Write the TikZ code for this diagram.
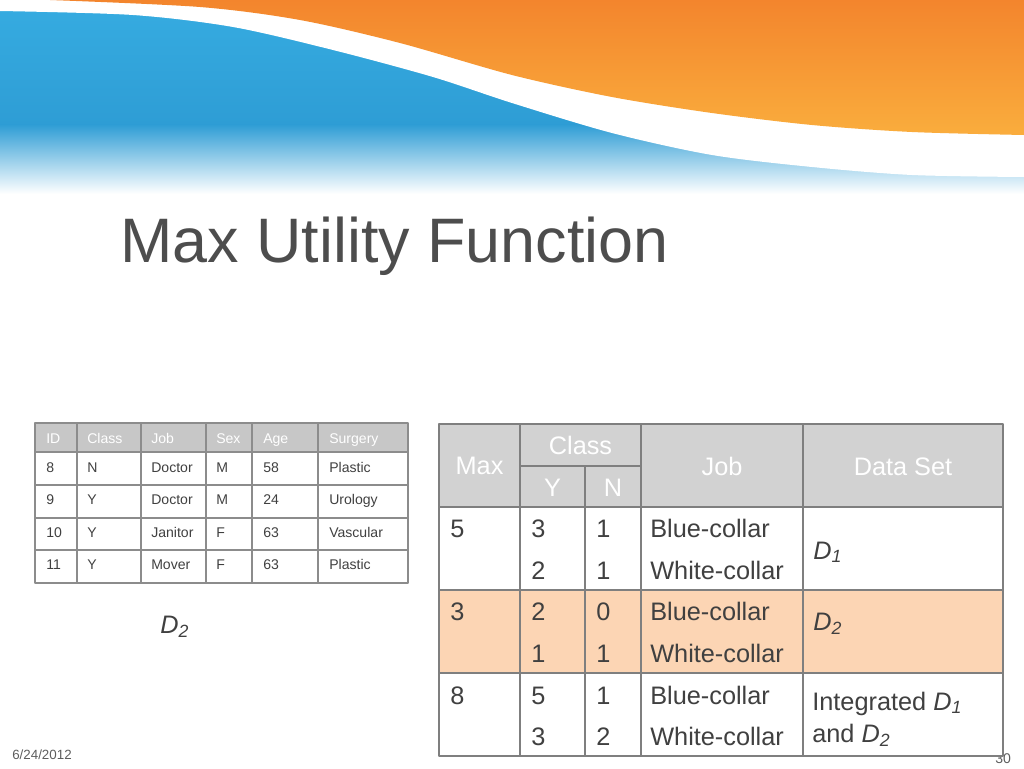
\documentclass[tikz,border=0pt]{standalone}
\usepackage{fontspec}
\setmainfont{Liberation Sans}
\definecolor{bannerblue}{HTML}{36ACE1}
\definecolor{bannerbluelow}{HTML}{2E9DD5}
\definecolor{bannerorange}{HTML}{F3852D}
\definecolor{bannerorangelow}{HTML}{FAAD3D}
\definecolor{titlegray}{HTML}{4D4D4D}
\definecolor{textgray}{HTML}{404040}
\definecolor{rulegray}{HTML}{7F7F7F}
\definecolor{headgray}{HTML}{D2D2D2}
\definecolor{peach}{HTML}{FCD5B4}
\begin{document}
\begin{tikzpicture}[x=0.25mm, y=-0.25mm, line join=round,
    celltext/.style={anchor=base west, inner sep=0pt, text=textgray, font=\fontsize{18}{21}\selectfont},
    headtext/.style={anchor=base, inner sep=0pt, text=white, font=\fontsize{18}{21}\selectfont},
    smalltext/.style={anchor=base west, inner sep=0pt, text=textgray, font=\fontsize{10}{12}\selectfont},
    smallhead/.style={smalltext, text=white},
    gridR/.style={rulegray, line width=0.5mm},
    gridL/.style={rulegray!90, line width=0.38mm}]
    \useasboundingbox (0,0) rectangle (1024,768);
    % banner
    \shade[top color=bannerblue, bottom color=bannerbluelow] (0,0) rectangle (1024,125);
    \shade[top color=bannerbluelow, bottom color=white] (0,124.5) rectangle (1024,194);
    \fill[white] (0,0) -- plot[smooth] coordinates {(0,11) (133,15) (233,27) (333,50) (433,77) (512,103) (612,133) (712,155) (812,167) (912,175) (1024,177)} -- (1024,0) -- cycle;
    \shade[top color=bannerorange, bottom color=bannerorangelow] plot[smooth] coordinates {(50,0) (200,7) (300,20) (400,43) (512,75) (612,97) (712,113) (812,125) (912,132) (1024,135)} -- (1024,0) -- cycle;
    \node[anchor=base west, inner sep=0pt, text=titlegray, font=\fontsize{44.7}{50}\selectfont] (title) at (120,262) {Max Utility Function};
    % footer
    \node[anchor=base west, inner sep=0pt, text=textgray!85, font=\fontsize{9.5}{11}\selectfont] (date) at (12,759) {6/24/2012};
    \node[anchor=base west, inner sep=0pt, text=textgray!85, font=\fontsize{10}{12}\selectfont] (page) at (995,763) {30};
    % left table
    \fill[headgray!95!black] (35,423) rectangle (408,452);
    \foreach \x/\h in {46/ID,87/Class,151/Job,216/Sex,263/Age,329/Surgery}
        \node[smallhead] (h\h) at (\x,443) {\h};
    \foreach \yb/\id/\cl/\jb/\sx/\ag/\sg in {472/8/N/Doctor/M/58/Plastic, 504.5/9/Y/Doctor/M/24/Urology, 537/10/Y/Janitor/F/63/Vascular, 569.5/11/Y/Mover/F/63/Plastic}{
        \node[smalltext] (id\id) at (46,\yb) {\id};
        \node[smalltext] (cl\id) at (87,\yb) {\cl};
        \node[smalltext] (jb\id) at (151,\yb) {\jb};
        \node[smalltext] (sx\id) at (216,\yb) {\sx};
        \node[smalltext] (ag\id) at (263,\yb) {\ag};
        \node[smalltext] (sg\id) at (329,\yb) {\sg};
    }
    \foreach \x in {77,141,206,252,318} \draw[gridL] (\x,423) -- (\x,583);
    \foreach \y in {452,485,518,550} \draw[gridL] (35,\y) -- (408,\y);
    \draw[gridL] (35,423) rectangle (408,583);
    \node[anchor=base west, inner sep=0pt, text=textgray, font=\fontsize{18}{21}\selectfont\itshape] (dtwo) at (160,633) {D\textsubscript{2}};
    % right table
    \fill[headgray] (439,424) rectangle (1003,507);
    \fill[peach] (439,590) rectangle (1003,673);
    \fill[white] (439,673) rectangle (1003,756);
    \node[headtext] (max) at (479.5,474.5) {Max};
    \node[headtext] (class) at (580.5,454) {Class};
    \node[headtext] (y) at (552.5,496) {Y};
    \node[headtext] (n) at (613,496) {N};
    \node[headtext] (job) at (722,475) {Job};
    \node[headtext] (set) at (903,475) {Data Set};
    \foreach \ya/\yb/\m/\pa/\pb/\qa/\qb [count=\i] in {537/579/5/3/2/1/1, 620/662/3/2/1/0/1, 704/745/8/5/3/1/2}{
        \node[celltext] (max\i) at (450,\ya) {\m};
        \node[celltext] (ya\i) at (531,\ya) {\pa};
        \node[celltext] (yb\i) at (531,\yb) {\pb};
        \node[celltext] (na\i) at (596,\ya) {\qa};
        \node[celltext] (nb\i) at (596,\yb) {\qb};
        \node[celltext] (blue\i) at (650,\ya) {Blue-collar};
        \node[celltext] (white\i) at (650,\yb) {White-collar};
    }
    \node[celltext] (set1) at (813,559) {\textit{D}\textsubscript{\textit{1}}};
    \node[celltext] (set2) at (813,630) {\textit{D}\textsubscript{\textit{2}}};
    \node[celltext] (set3a) at (812,710) {Integrated \textit{D}\textsubscript{\textit{1}}};
    \node[celltext] (set3b) at (812,742) {and \textit{D}\textsubscript{\textit{2}}};
    \foreach \y in {507,590,673} \draw[gridR] (439,\y) -- (1003,\y);
    \draw[gridR] (520,466) -- (641,466);
    \foreach \x in {520,641,803} \draw[gridR] (\x,424) -- (\x,756);
    \draw[gridR] (585,466) -- (585,756);
    \draw[gridR] (439,424) rectangle (1003,756);
\end{tikzpicture}
\end{document}
